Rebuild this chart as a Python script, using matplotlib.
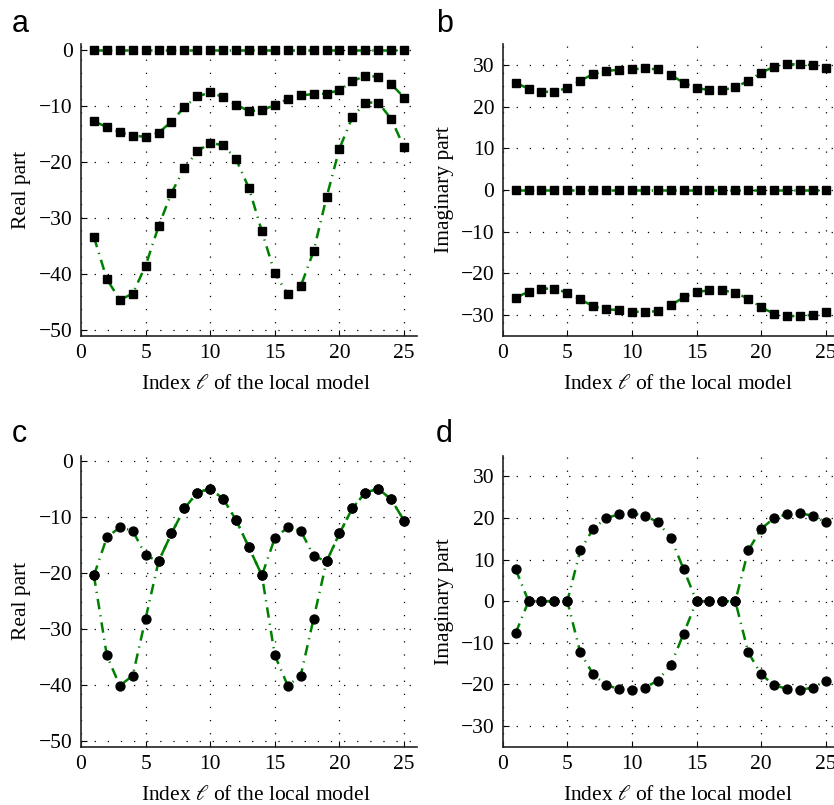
import numpy as np
import matplotlib
matplotlib.use("Agg")
import matplotlib.pyplot as plt

plt.rcParams["font.family"] = ["Liberation Serif", "DejaVu Serif"]
plt.rcParams["mathtext.fontset"] = "stix"

idx = np.arange(1, 26)

# panel a: real parts (squares)
real_a_top = [0.0] * 25
real_a_mid = [-12.7, -13.8, -14.7, -15.3, -15.5, -14.8, -12.8, -10.2, -8.3, -7.6,
              -8.4, -9.8, -10.9, -10.8, -9.8, -8.8, -8.1, -7.9, -7.8, -7.2,
              -5.6, -4.6, -4.8, -6.1, -8.5]
real_a_low = [-33.4, -40.9, -44.6, -43.5, -38.5, -31.5, -25.5, -21.1, -18.1, -16.6,
              -17.0, -19.5, -24.7, -32.4, -39.9, -43.6, -42.2, -35.9, -26.3, -17.6,
              -12.0, -9.4, -9.4, -12.3, -17.4]

# panel b: imaginary parts (squares)
imag_b_up = [25.8, 24.3, 23.6, 23.6, 24.5, 26.3, 27.8, 28.6, 28.9, 29.0,
             29.2, 29.0, 27.6, 25.8, 24.5, 24.0, 24.0, 24.7, 26.2, 28.2,
             29.6, 30.2, 30.2, 30.0, 29.2]
imag_b_mid = [0.0] * 25
imag_b_low = [-25.9, -24.4, -23.7, -23.7, -24.7, -26.3, -27.9, -28.7, -28.8, -29.2,
              -29.3, -29.1, -27.7, -25.8, -24.5, -24.1, -24.1, -24.7, -26.1, -28.2,
              -29.7, -30.3, -30.3, -30.0, -29.2]

# panel c: real parts (circles)
real_c_up = [-20.4, -13.6, -11.8, -12.4, -16.8, -17.9, -12.9, -8.4, -5.6, -4.9,
             -6.7, -10.5, -15.4, -20.4, -13.7, -11.8, -12.4, -16.9, -17.9, -12.9,
             -8.4, -5.6, -4.9, -6.8, -10.6]
real_c_low = [-20.4, -34.7, -40.1, -38.3, -28.1, -17.9, -12.9, -8.4, -5.6, -4.9,
              -6.7, -10.5, -15.4, -20.4, -34.7, -40.1, -38.3, -28.1, -17.9, -12.9,
              -8.4, -5.6, -4.9, -6.8, -10.6]

# panel d: imaginary parts (circles)
imag_d_up = [7.7, 0, 0, 0, 0, 12.2, 17.4, 20.0, 20.9, 21.1,
             20.6, 19.0, 15.3, 7.7, 0, 0, 0, 0, 12.2, 17.4,
             20.0, 20.9, 21.1, 20.6, 19.0]
imag_d_low = [-7.7, 0, 0, 0, 0, -12.3, -17.6, -20.2, -21.1, -21.3,
              -20.8, -19.1, -15.4, -7.8, 0, 0, 0, 0, -12.3, -17.6,
              -20.2, -21.1, -21.3, -20.8, -19.1]

xticks = [0, 5, 10, 15, 20, 25]
real_ticks = [-50, -40, -30, -20, -10, 0]
imag_ticks = [-30, -20, -10, 0, 10, 20, 30]

green = "#008000"
dashdot = (0, (4.2, 2.4, 0.5, 2.4))
gridstyle = (0, (1, 9.5))
fs = 15.5

W, H = 834, 805
fig = plt.figure(figsize=(W / 100, H / 100), dpi=100)


def make_ax(left, top, bottom, ylim, yticks, ylabel, labx):
    ax = fig.add_axes([left / W, 1 - bottom / H, 336 / W, (bottom - top) / H])
    ax.set_xlim(0, 26)
    ax.set_ylim(*ylim)
    ax.set_xticks(xticks)
    ax.set_yticks(yticks)
    ax.spines["top"].set_visible(False)
    ax.spines["right"].set_visible(False)
    for s in ("left", "bottom"):
        ax.spines[s].set_linewidth(1.2)
        ax.spines[s].set_color("#222222")
    ax.tick_params(direction="in", length=4, width=0.8, labelsize=fs, pad=6)
    ax.grid(True, color="black", lw=0.9, linestyle=gridstyle)
    ax.set_axisbelow(True)
    ax.set_xlabel(r"Index $\ell$ of the local model", fontsize=fs)
    ax.xaxis.set_label_coords(0.52, -0.135)
    ax.set_ylabel(ylabel, fontsize=fs)
    ax.yaxis.set_label_coords(labx, 0.5)
    return ax


def series(ax, y, marker):
    ax.plot(idx, y, color=green, lw=1.8, linestyle=dashdot, zorder=3)
    ax.plot(idx, y, marker, color="black", ms=6.4, mec="black", zorder=4,
            clip_on=False)


ax_a = make_ax(81, 44.3, 335.7, (-51, 1), real_ticks, "Real part", -0.15)
for y in (real_a_top, real_a_mid, real_a_low):
    series(ax_a, y, "s")

ax_b = make_ax(502.7, 44.3, 335.7, (-35, 35), imag_ticks, "Imaginary part", -0.146)
for y in (imag_b_up, imag_b_mid, imag_b_low):
    series(ax_b, y, "s")

ax_c = make_ax(81, 455.7, 746.7, (-51, 1), real_ticks, "Real part", -0.15)
for y in (real_c_up, real_c_low):
    series(ax_c, y, "o")

ax_d = make_ax(502.7, 455.7, 746.7, (-35, 35), imag_ticks, "Imaginary part", -0.146)
for y in (imag_d_up, imag_d_low):
    series(ax_d, y, "o")

for lab, x, y in (("a", 12, 32), ("b", 436, 32), ("c", 12, 442), ("d", 436, 442)):
    fig.text(x / W, 1 - y / H, lab, fontsize=22, family="Liberation Sans",
             va="baseline", ha="left")

fig.savefig("out.png", dpi=100)
